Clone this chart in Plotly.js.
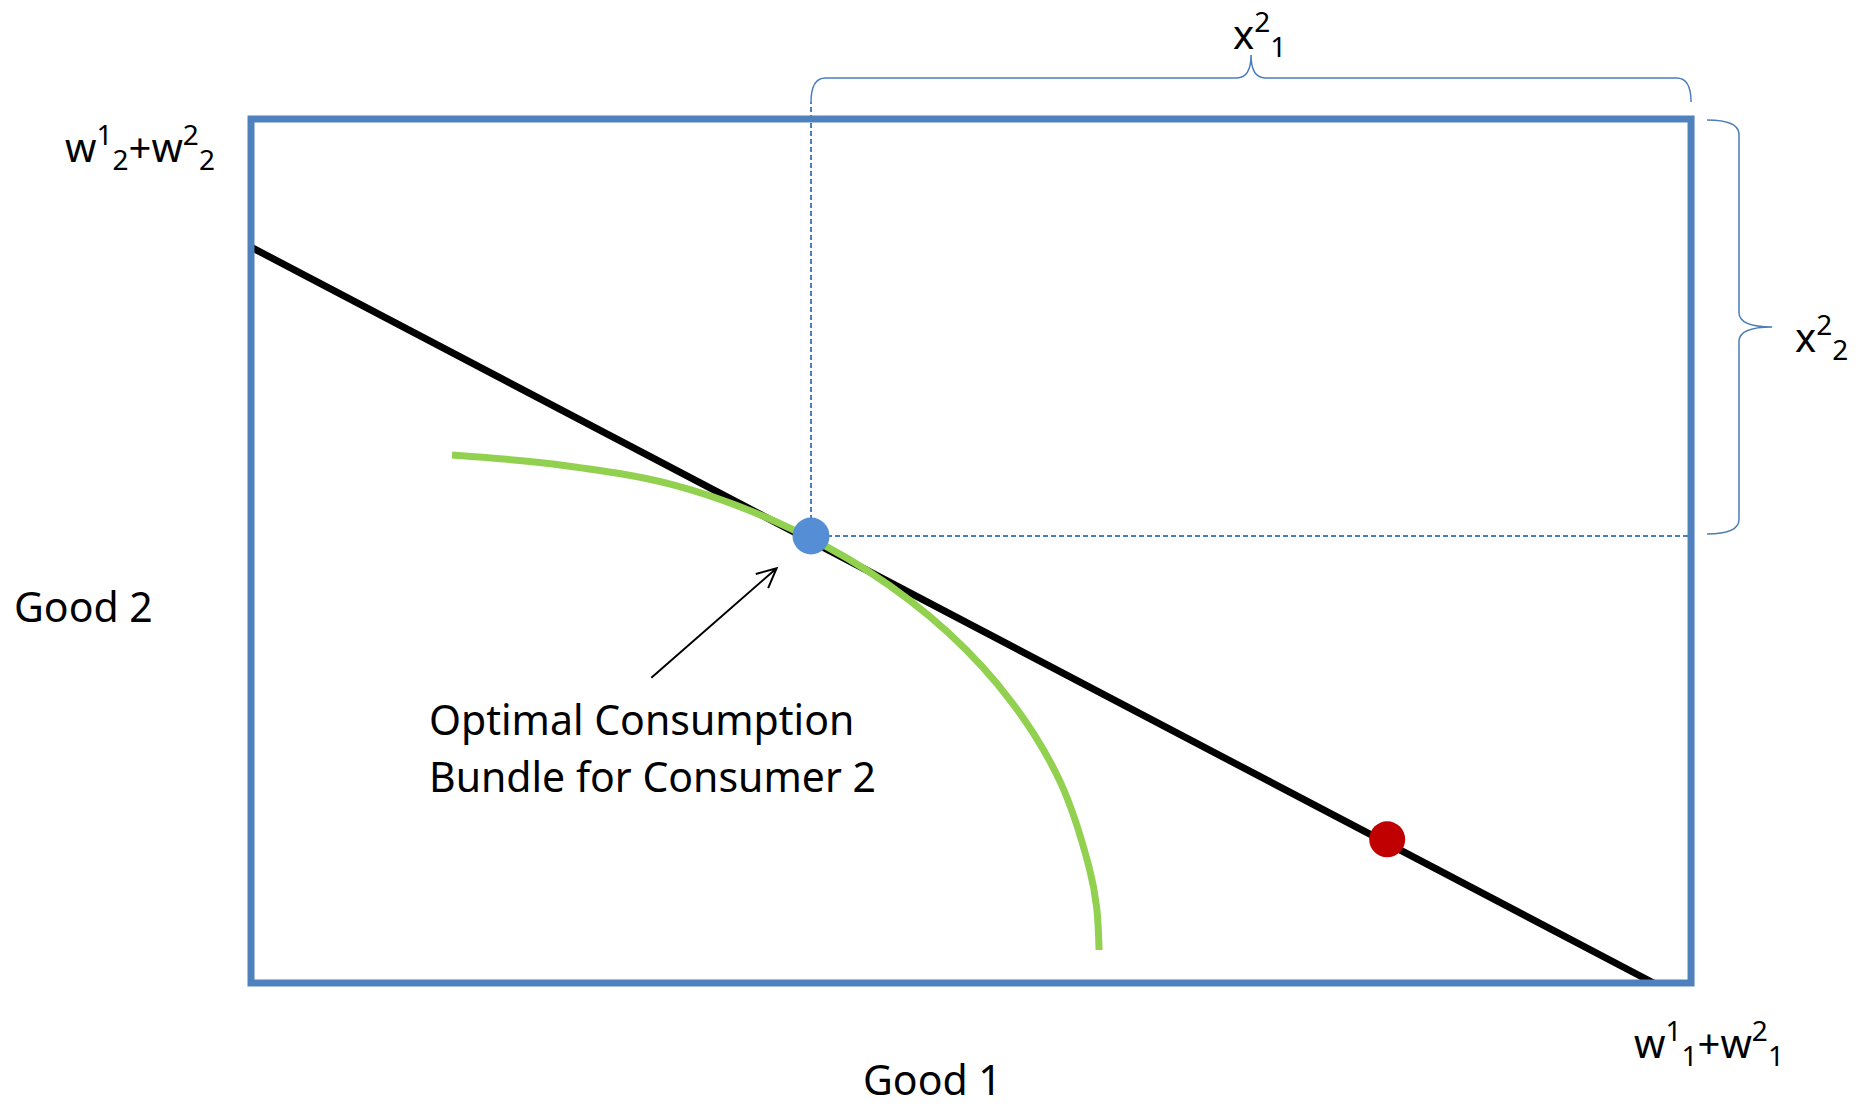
<!DOCTYPE html>
<html>
<head>
<meta charset="utf-8">
<script src="https://cdn.plot.ly/plotly-3.0.1.min.js"></script>
<style>html,body{margin:0;padding:0;background:#fff;}#chart{width:1866px;height:1108px;}</style>
</head>
<body>
<div id="chart"></div>
<script>
// Edgeworth box extents (Good 1 total, Good 2 total)
const boxX = [0, 10];
const boxY = [0, 6];
// budget line endpoints
const budgetX = [0, 9.74];
const budgetY = [5.11, 0];
// indifference curve of consumer 2
const curveX = [1.396, 2.175, 2.933, 3.642, 4.284, 4.838, 5.287, 5.618, 5.821, 5.872, 5.889];
const curveY = [3.667, 3.594, 3.459, 3.205, 2.861, 2.436, 1.944, 1.400, 0.799, 0.529, 0.229];
// optimal bundle (blue) and endowment (red)
const optimalX = [3.889];
const optimalY = [3.104];
const endowX = [7.89];
const endowY = [0.998];
// texts
const labelGood1 = "Good 1";
const labelGood2 = "Good 2";
const labelTotal2 = "w<sup>1</sup><sub>2</sub>+w<sup>2</sup><sub>2</sub>";
const labelTotal1 = "w<sup>1</sup><sub>1</sub>+w<sup>2</sup><sub>1</sub>";
const labelX21 = "x<sup>2</sup><sub>1</sub>";
const labelX22 = "x<sup>2</sup><sub>2</sub>";
const labelNote1 = "Optimal Consumption";
const labelNote2 = "Bundle for Consumer 2";
const arrowTip = [3.65, 2.88];
const arrowTail = [2.78, 2.12];

const FONT = "Noto Sans, Open Sans, sans-serif";
const boxBlue = "#4F81BD";
const thinBlue = "#4A7EBB";

const ox = optimalX[0], oy = optimalY[0];

// brace path builder (horizontal, opening downward)
function hBrace(x0, x1, yEnd, ySpine, yTip, r) {
  const xm = (x0 + x1) / 2;
  return `M ${x0},${yEnd} Q ${x0},${ySpine} ${x0 + r},${ySpine} L ${xm - r},${ySpine} Q ${xm},${ySpine} ${xm},${yTip} Q ${xm},${ySpine} ${xm + r},${ySpine} L ${x1 - r},${ySpine} Q ${x1},${ySpine} ${x1},${yEnd}`;
}
function vBrace(y0, y1, xEnd, xSpine, xTip, r) {
  const ym = (y0 + y1) / 2;
  return `M ${xEnd},${y0} Q ${xSpine},${y0} ${xSpine},${y0 - r} L ${xSpine},${ym + r} Q ${xSpine},${ym} ${xTip},${ym} Q ${xSpine},${ym} ${xSpine},${ym - r} L ${xSpine},${y1 + r} Q ${xSpine},${y1} ${xEnd},${y1}`;
}
// arrow head
function arrowPath(tail, tip, len, ang) {
  const dx = tip[0] - tail[0], dy = tip[1] - tail[1];
  const a = Math.atan2(dy, dx);
  const p1 = [tip[0] - len * Math.cos(a - ang), tip[1] - len * Math.sin(a - ang)];
  const p2 = [tip[0] - len * Math.cos(a + ang), tip[1] - len * Math.sin(a + ang)];
  return `M ${tail[0]},${tail[1]} L ${tip[0]},${tip[1]} M ${p1[0]},${p1[1]} L ${tip[0]},${tip[1]} L ${p2[0]},${p2[1]}`;
}

const traces = [
  {x: budgetX, y: budgetY, mode: "lines", line: {color: "#000000", width: 7}, hoverinfo: "skip"},
  {x: curveX, y: curveY, mode: "lines", line: {color: "#92D050", width: 7, shape: "spline", smoothing: 1}, hoverinfo: "skip"},
  {x: optimalX, y: optimalY, mode: "markers", marker: {color: "#558ED5", size: 37}, hoverinfo: "skip"},
  {x: endowX, y: endowY, mode: "markers", marker: {color: "#C00000", size: 36}, hoverinfo: "skip"}
];

const shapes = [
  // dashed guides
  {type: "line", xref: "x", yref: "y", x0: ox, x1: ox, y0: oy, y1: boxY[1] + 0.118, line: {color: thinBlue, width: 2, dash: "5px,3px"}, layer: "below"},
  {type: "line", xref: "x", yref: "y", x0: ox, x1: boxX[1], y0: oy, y1: oy, line: {color: thinBlue, width: 2, dash: "5px,3px"}, layer: "below"},
  // box
  {type: "rect", xref: "x", yref: "y", x0: boxX[0], x1: boxX[1], y0: boxY[0], y1: boxY[1], line: {color: boxBlue, width: 7}, fillcolor: "rgba(0,0,0,0)", layer: "above"},
  // braces
  {type: "path", xref: "x", yref: "y", path: hBrace(ox, boxX[1], boxY[1] + 0.118, boxY[1] + 0.285, boxY[1] + 0.444, 0.1), line: {color: thinBlue, width: 1.5}},
  {type: "path", xref: "x", yref: "y", path: vBrace(boxY[1] - 0.007, oy + 0.014, boxX[1] + 0.111, boxX[1] + 0.333, boxX[1] + 0.563, 0.1), line: {color: thinBlue, width: 1.5}},
  // arrow
  {type: "path", xref: "x", yref: "y", path: arrowPath(arrowTail, arrowTip, 0.15, 0.45), line: {color: "#000000", width: 2}}
];

function ann(text, x, y, xa, ya, size) {
  return {text: text, x: x, y: y, xref: "x", yref: "y", xanchor: xa, yanchor: ya, showarrow: false,
          font: {family: FONT, size: size || 41, color: "#000000"}, align: "left"};
}
const annotations = [
  ann(labelTotal2, -0.236, 5.81, "right", "middle", 40),
  ann(labelGood2, -1.66, 2.62, "left", "middle"),
  ann(labelGood1, 4.73, -0.665, "center", "middle"),
  ann(labelTotal1, 9.59, -0.41, "left", "middle", 40),
  ann(labelX21, 7.0, 6.59, "center", "middle", 40),
  ann(labelX22, 10.71, 4.49, "left", "middle", 40),
  ann(labelNote1, 1.225, 1.83, "left", "middle"),
  ann(labelNote2, 1.225, 1.44, "left", "middle")
];

const layout = {
  width: 1866, height: 1108,
  margin: {l: 0, r: 0, t: 0, b: 0, pad: 0},
  paper_bgcolor: "#ffffff", plot_bgcolor: "#ffffff",
  showlegend: false,
  xaxis: {range: [-1.743, 11.215], visible: false, showgrid: false, zeroline: false, fixedrange: true},
  yaxis: {range: [-0.868, 6.826], visible: false, showgrid: false, zeroline: false, fixedrange: true},
  shapes: shapes,
  annotations: annotations
};

Plotly.newPlot("chart", traces, layout, {displayModeBar: false, staticPlot: true});
</script>
</body>
</html>
